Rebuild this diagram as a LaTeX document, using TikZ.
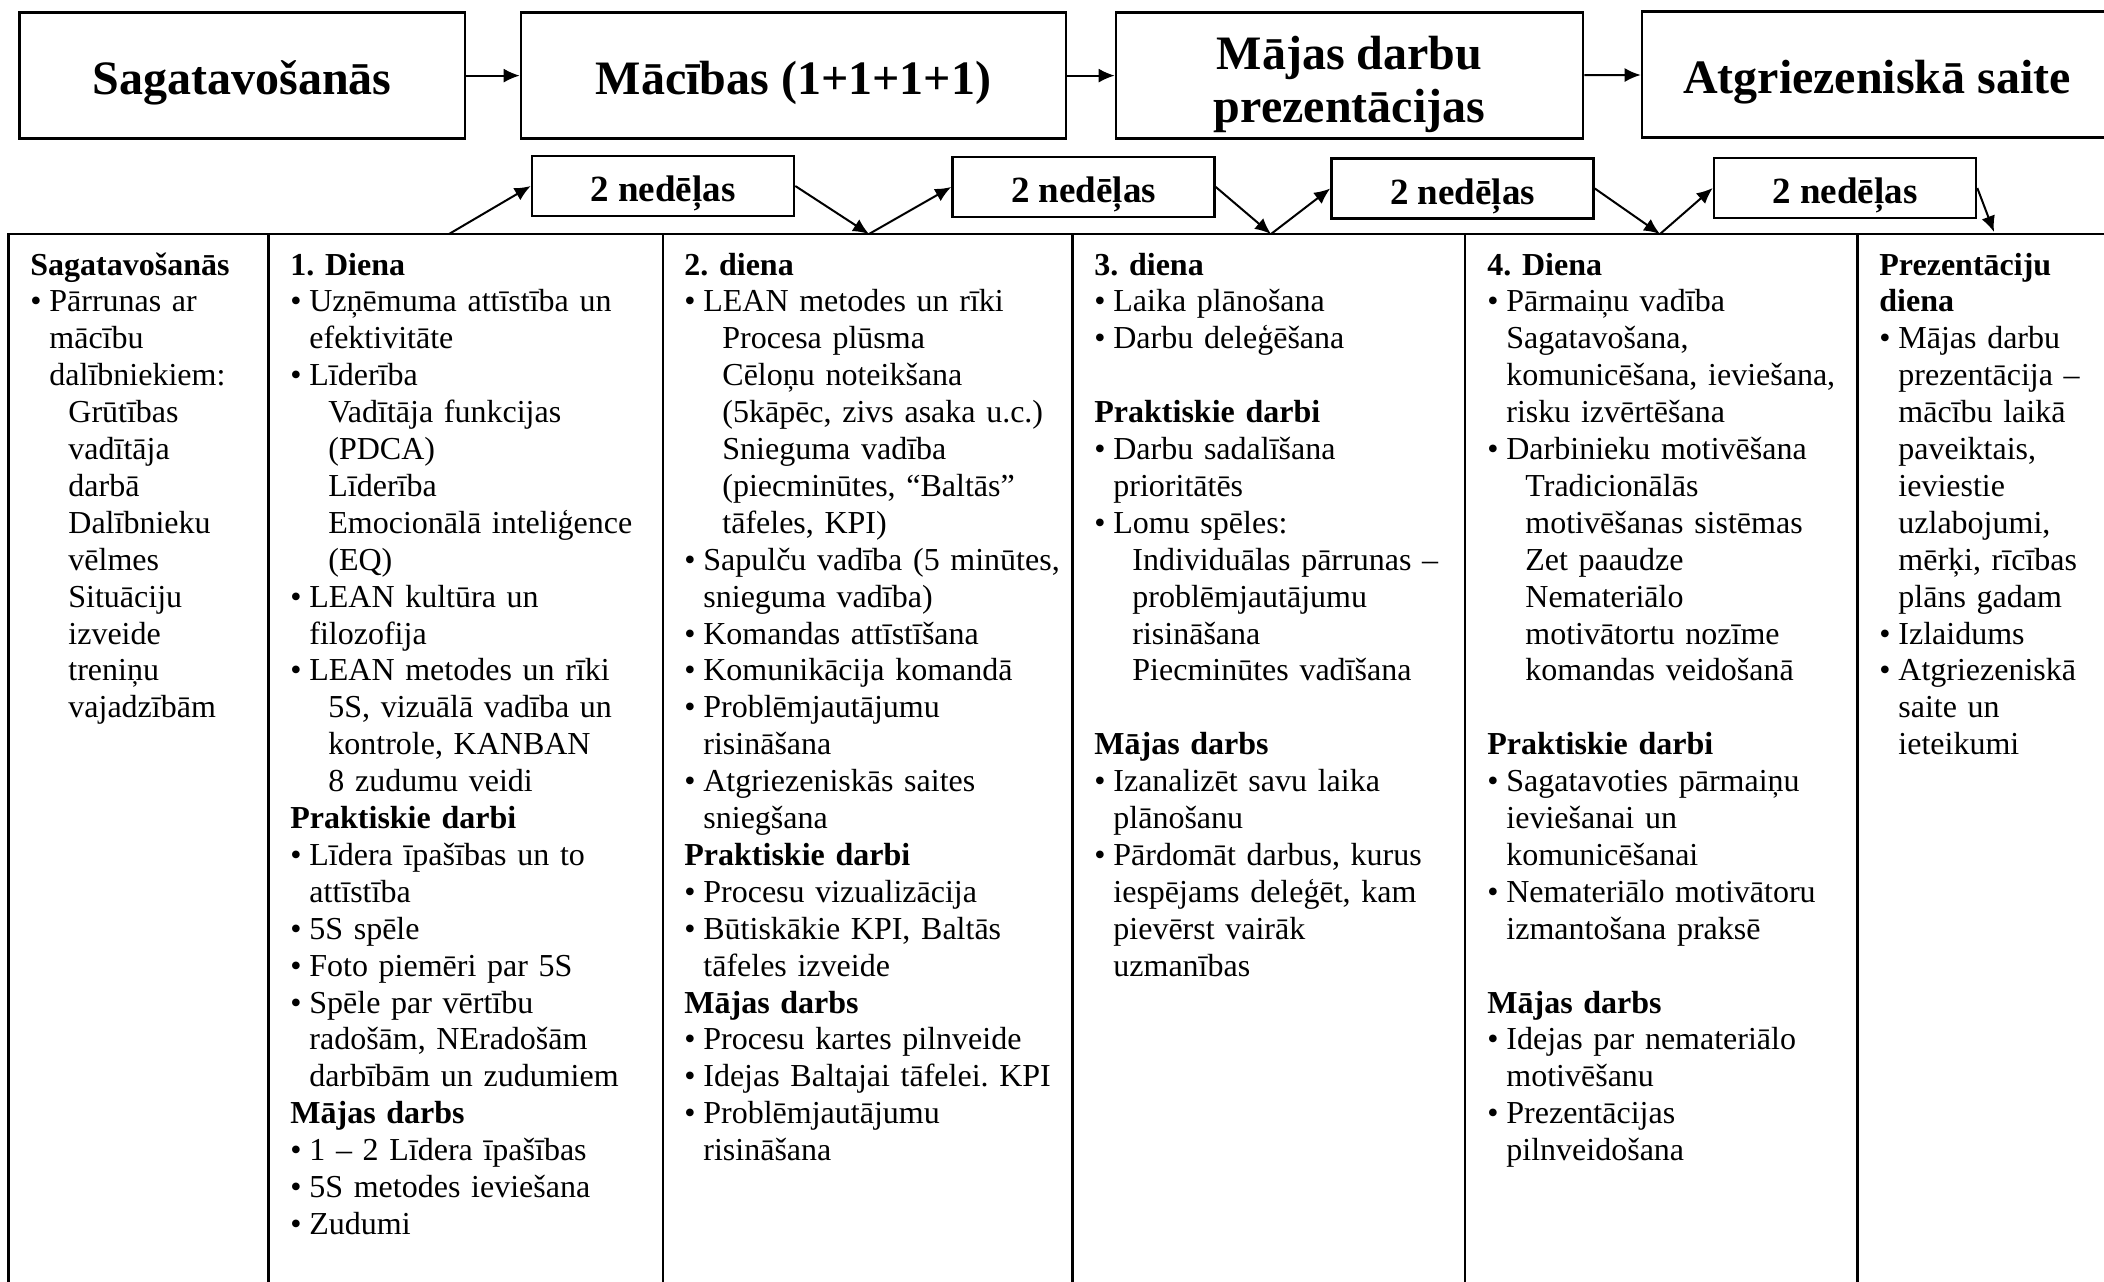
\documentclass[tikz,border=0pt]{standalone}
\usepackage{fontspec}
\setmainfont{Liberation Serif}
\usetikzlibrary{arrows.meta}
\frenchspacing
\newcommand{\bu}{\makebox[9.5pt][l]{•}}
\newcommand{\ia}{\hspace*{9.5pt}}
\newcommand{\ib}{\hspace*{19pt}}
\tikzset{
  topbox/.style={draw,line width=1.3pt,minimum height=63pt,inner sep=2pt,align=center,
    text height=21pt,text depth=2.2pt,font=\fontsize{24}{26.7}\selectfont\bfseries},
  weekbox/.style={draw,line width=1.3pt,minimum width=131pt,minimum height=30pt,inner sep=0pt,
    text height=17pt,text depth=1.4pt,font=\fontsize{18.5}{20}\selectfont\bfseries},
  daytext/.style={anchor=base west,inner sep=0pt,text width=200pt,align=left,
    font=\fontsize{16}{18.45}\selectfont},
  tableline/.style={line width=1.3pt},
  link/.style={-{Latex[length=8pt,width=7pt]},line width=1pt}
}
\begin{document}
\begin{tikzpicture}[x=0.5pt,y=-0.5pt]
	\useasboundingbox (0,0) rectangle (2104,1281);
	\clip (0,0) rectangle (2104,1281);
	% table
	\draw[tableline] (8.4,1290) -- (8.4,234) -- (2110,234);
	\foreach \x in {268.7,663,1072.6,1465,1857.6}\draw[tableline] (\x,234) -- (\x,1290);
	% top row
	\node[topbox,minimum width=222.7pt] (prep) at (242.3,75.6) {Sagatavošanās};
	\node[topbox,minimum width=272.5pt] (train) at (793.5,75.6) {Mācības (1+1+1+1)};
	\node[topbox,minimum width=233.5pt,text height=52pt,text depth=5.2pt] (homework) at (1349.5,75.6) {Mājas darbu\\prezentācijas};
	\node[topbox,minimum width=235pt] (feedback) at (1877,74.5) {Atgriezeniskā saite};
	\draw[link] (prep) -- (train);
	\draw[link] (train) -- (homework);
	\draw[link] (homework) -- (feedback);
	% weeks between the days
	\foreach \n/\x/\y in {A/663/186,B/1083.5/187,C/1462.5/188.5,D/1845/188}
		\node[weekbox] (week\n) at (\x,\y) {2 nedēļas};
	\coordinate (t1) at (449,234);
	\coordinate (t2) at (869,234);
	\coordinate (t3) at (1271,234);
	\coordinate (t4) at (1660,234);
	\coordinate (t5) at (1994,232);
	\foreach \w/\s/\e in {A/t1/t2,B/t2/t3,C/t3/t4,D/t4/t5}{
		\draw[link] (\s) -- (week\w.west);
		\draw[link] (week\w.east) -- (\e);
	}
	% columns
	\node[daytext] (colPrep) at (30,275) {\textbf{Sagatavošanās}\\
		\bu Pārrunas ar\\
		\ia mācību\\
		\ia dalībniekiem:\\
		\ib Grūtības\\
		\ib vadītāja\\
		\ib darbā\\
		\ib Dalībnieku\\
		\ib vēlmes\\
		\ib Situāciju\\
		\ib izveide\\
		\ib treniņu\\
		\ib vajadzībām};
	\node[daytext] (colDay1) at (290,275) {\textbf{1. Diena}\\
		\bu Uzņēmuma attīstība un\\
		\ia efektivitāte\\
		\bu Līderība\\
		\ib Vadītāja funkcijas\\
		\ib (PDCA)\\
		\ib Līderība\\
		\ib Emocionālā inteliģence\\
		\ib (EQ)\\
		\bu LEAN kultūra un\\
		\ia filozofija\\
		\bu LEAN metodes un rīki\\
		\ib 5S, vizuālā vadība un\\
		\ib kontrole, KANBAN\\
		\ib 8 zudumu veidi\\
		\textbf{Praktiskie darbi}\\
		\bu Līdera īpašības un to\\
		\ia attīstība\\
		\bu 5S spēle\\
		\bu Foto piemēri par 5S\\
		\bu Spēle par vērtību\\
		\ia radošām, NEradošām\\
		\ia darbībām un zudumiem\\
		\textbf{Mājas darbs}\\
		\bu 1 – 2 Līdera īpašības\\
		\bu 5S metodes ieviešana\\
		\bu Zudumi};
	\node[daytext] (colDay2) at (684,275) {\textbf{2. diena}\\
		\bu LEAN metodes un rīki\\
		\ib Procesa plūsma\\
		\ib Cēloņu noteikšana\\
		\ib (5kāpēc, zivs asaka u.c.)\\
		\ib Snieguma vadība\\
		\ib (piecminūtes, “Baltās”\\
		\ib tāfeles, KPI)\\
		\bu Sapulču vadība (5 minūtes,\\
		\ia snieguma vadība)\\
		\bu Komandas attīstīšana\\
		\bu Komunikācija komandā\\
		\bu Problēmjautājumu\\
		\ia risināšana\\
		\bu Atgriezeniskās saites\\
		\ia sniegšana\\
		\textbf{Praktiskie darbi}\\
		\bu Procesu vizualizācija\\
		\bu Būtiskākie KPI, Baltās\\
		\ia tāfeles izveide\\
		\textbf{Mājas darbs}\\
		\bu Procesu kartes pilnveide\\
		\bu Idejas Baltajai tāfelei. KPI\\
		\bu Problēmjautājumu\\
		\ia risināšana};
	\node[daytext] (colDay3) at (1094,275) {\textbf{3. diena}\\
		\bu Laika plānošana\\
		\bu Darbu deleģēšana\\
		\mbox{}\\
		\textbf{Praktiskie darbi}\\
		\bu Darbu sadalīšana\\
		\ia prioritātēs\\
		\bu Lomu spēles:\\
		\ib Individuālas pārrunas –\\
		\ib problēmjautājumu\\
		\ib risināšana\\
		\ib Piecminūtes vadīšana\\
		\mbox{}\\
		\textbf{Mājas darbs}\\
		\bu Izanalizēt savu laika\\
		\ia plānošanu\\
		\bu Pārdomāt darbus, kurus\\
		\ia iespējams deleģēt, kam\\
		\ia pievērst vairāk\\
		\ia uzmanības};
	\node[daytext] (colDay4) at (1487,275) {\textbf{4. Diena}\\
		\bu Pārmaiņu vadība\\
		\ia Sagatavošana,\\
		\ia komunicēšana, ieviešana,\\
		\ia risku izvērtēšana\\
		\bu Darbinieku motivēšana\\
		\ib Tradicionālās\\
		\ib motivēšanas sistēmas\\
		\ib Zet paaudze\\
		\ib Nemateriālo\\
		\ib motivātortu nozīme\\
		\ib komandas veidošanā\\
		\mbox{}\\
		\textbf{Praktiskie darbi}\\
		\bu Sagatavoties pārmaiņu\\
		\ia ieviešanai un\\
		\ia komunicēšanai\\
		\bu Nemateriālo motivātoru\\
		\ia izmantošana praksē\\
		\mbox{}\\
		\textbf{Mājas darbs}\\
		\bu Idejas par nemateriālo\\
		\ia motivēšanu\\
		\bu Prezentācijas\\
		\ia pilnveidošana};
	\node[daytext] (colPres) at (1879,275) {\textbf{Prezentāciju}\\
		\textbf{diena}\\
		\bu Mājas darbu\\
		\ia prezentācija –\\
		\ia mācību laikā\\
		\ia paveiktais,\\
		\ia ieviestie\\
		\ia uzlabojumi,\\
		\ia mērķi, rīcības\\
		\ia plāns gadam\\
		\bu Izlaidums\\
		\bu Atgriezeniskā\\
		\ia saite un\\
		\ia ieteikumi};
\end{tikzpicture}
\end{document}
